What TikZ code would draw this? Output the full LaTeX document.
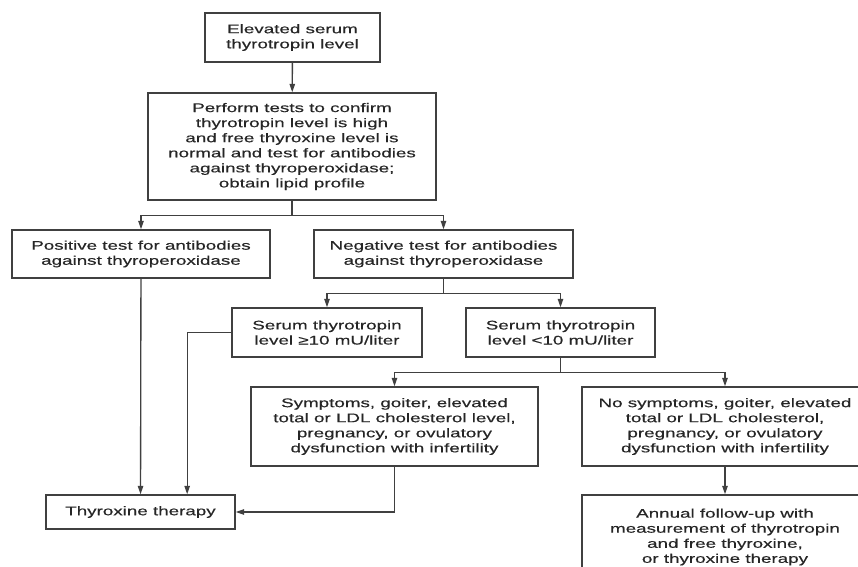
\documentclass[tikz,border=0pt]{standalone}
\usepackage{fontspec}
\setmainfont{Liberation Sans}[FakeStretch=1.5,FakeBold=0.4]
\usepackage{tikz}
\usetikzlibrary{arrows.meta,calc}

\begin{document}
\begin{tikzpicture}[
		x=0.75pt,y=-0.75pt,
		font=\fontsize{9.4}{11.3}\selectfont,
		box/.style={draw=black!75,rectangle,align=center,inner sep=0pt,line width=1pt,text=black!85},
		arr/.style={-{Triangle[length=2.2mm,width=1.4mm]},line width=1pt,black!75},
		ln/.style={line width=1pt,black!75}
		]
		\useasboundingbox (0,0) rectangle (858,567);

		\node[box,minimum width=131.25pt,minimum height=36.75pt] (elev) at (292.5,37.5)
			{Elevated serum\\thyrotropin level};
		\node[box,minimum width=216pt,minimum height=80.25pt] (perf) at (292,146.5)
			{Perform tests to confirm\\thyrotropin level is high\\and free thyroxine level is\\normal and test for antibodies\\against thyroperoxidase;\\obtain lipid profile};
		\node[box,minimum width=193.5pt,minimum height=36pt] (pos) at (141,254)
			{Positive test for antibodies\\against thyroperoxidase};
		\node[box,minimum width=194.25pt,minimum height=36pt] (neg) at (443.5,254)
			{Negative test for antibodies\\against thyroperoxidase};
		\node[box,minimum width=142.5pt,minimum height=36.75pt] (hi) at (327,332.5)
			{Serum thyrotropin\\level ≥10 mU/liter};
		\node[box,minimum width=141.75pt,minimum height=36.75pt] (lo) at (560.5,332.5)
			{Serum thyrotropin\\level <10 mU/liter};
		\node[box,minimum width=215.25pt,minimum height=59.25pt] (sym) at (394.5,426.5)
			{Symptoms, goiter, elevated\\total or LDL cholesterol level,\\pregnancy, or ovulatory\\dysfunction with infertility};
		\node[box,minimum width=214.5pt,minimum height=59.25pt] (nosym) at (725,426.5)
			{No symptoms, goiter, elevated\\total or LDL cholesterol,\\pregnancy, or ovulatory\\dysfunction with infertility};
		\node[box,minimum width=141.75pt,minimum height=25.5pt] (thyr) at (140.5,512)
			{Thyroxine therapy};
		\node[box,minimum width=214.5pt,minimum height=63pt] (annual) at (725,537)
			{Annual follow-up with\\measurement of thyrotropin\\and free thyroxine,\\or thyroxine therapy};

		\draw[arr] (elev) -- (perf);
		\draw[ln] (perf.south) -- ++(0,15) coordinate (j1);
		\draw[arr] (j1) -| (pos.north);
		\draw[arr] (j1) -| (neg.north);
		\draw[ln] (neg.south) -- ++(0,15) coordinate (j2);
		\draw[arr] (j2) -| (hi.north);
		\draw[arr] (j2) -| (lo.north);
		\draw[ln] (lo.south) -- ++(0,15) coordinate (j3);
		\draw[arr] (j3) -| (sym.north);
		\draw[arr] (j3) -| (nosym.north);
		\draw[arr] (pos) -- (thyr);
		\draw[arr] (hi.west) -| ([xshift=35pt]thyr.north);
		\draw[arr] (sym.south) |- (thyr.east);
		\draw[arr] (nosym) -- (annual);
	\end{tikzpicture}
\end{document}
